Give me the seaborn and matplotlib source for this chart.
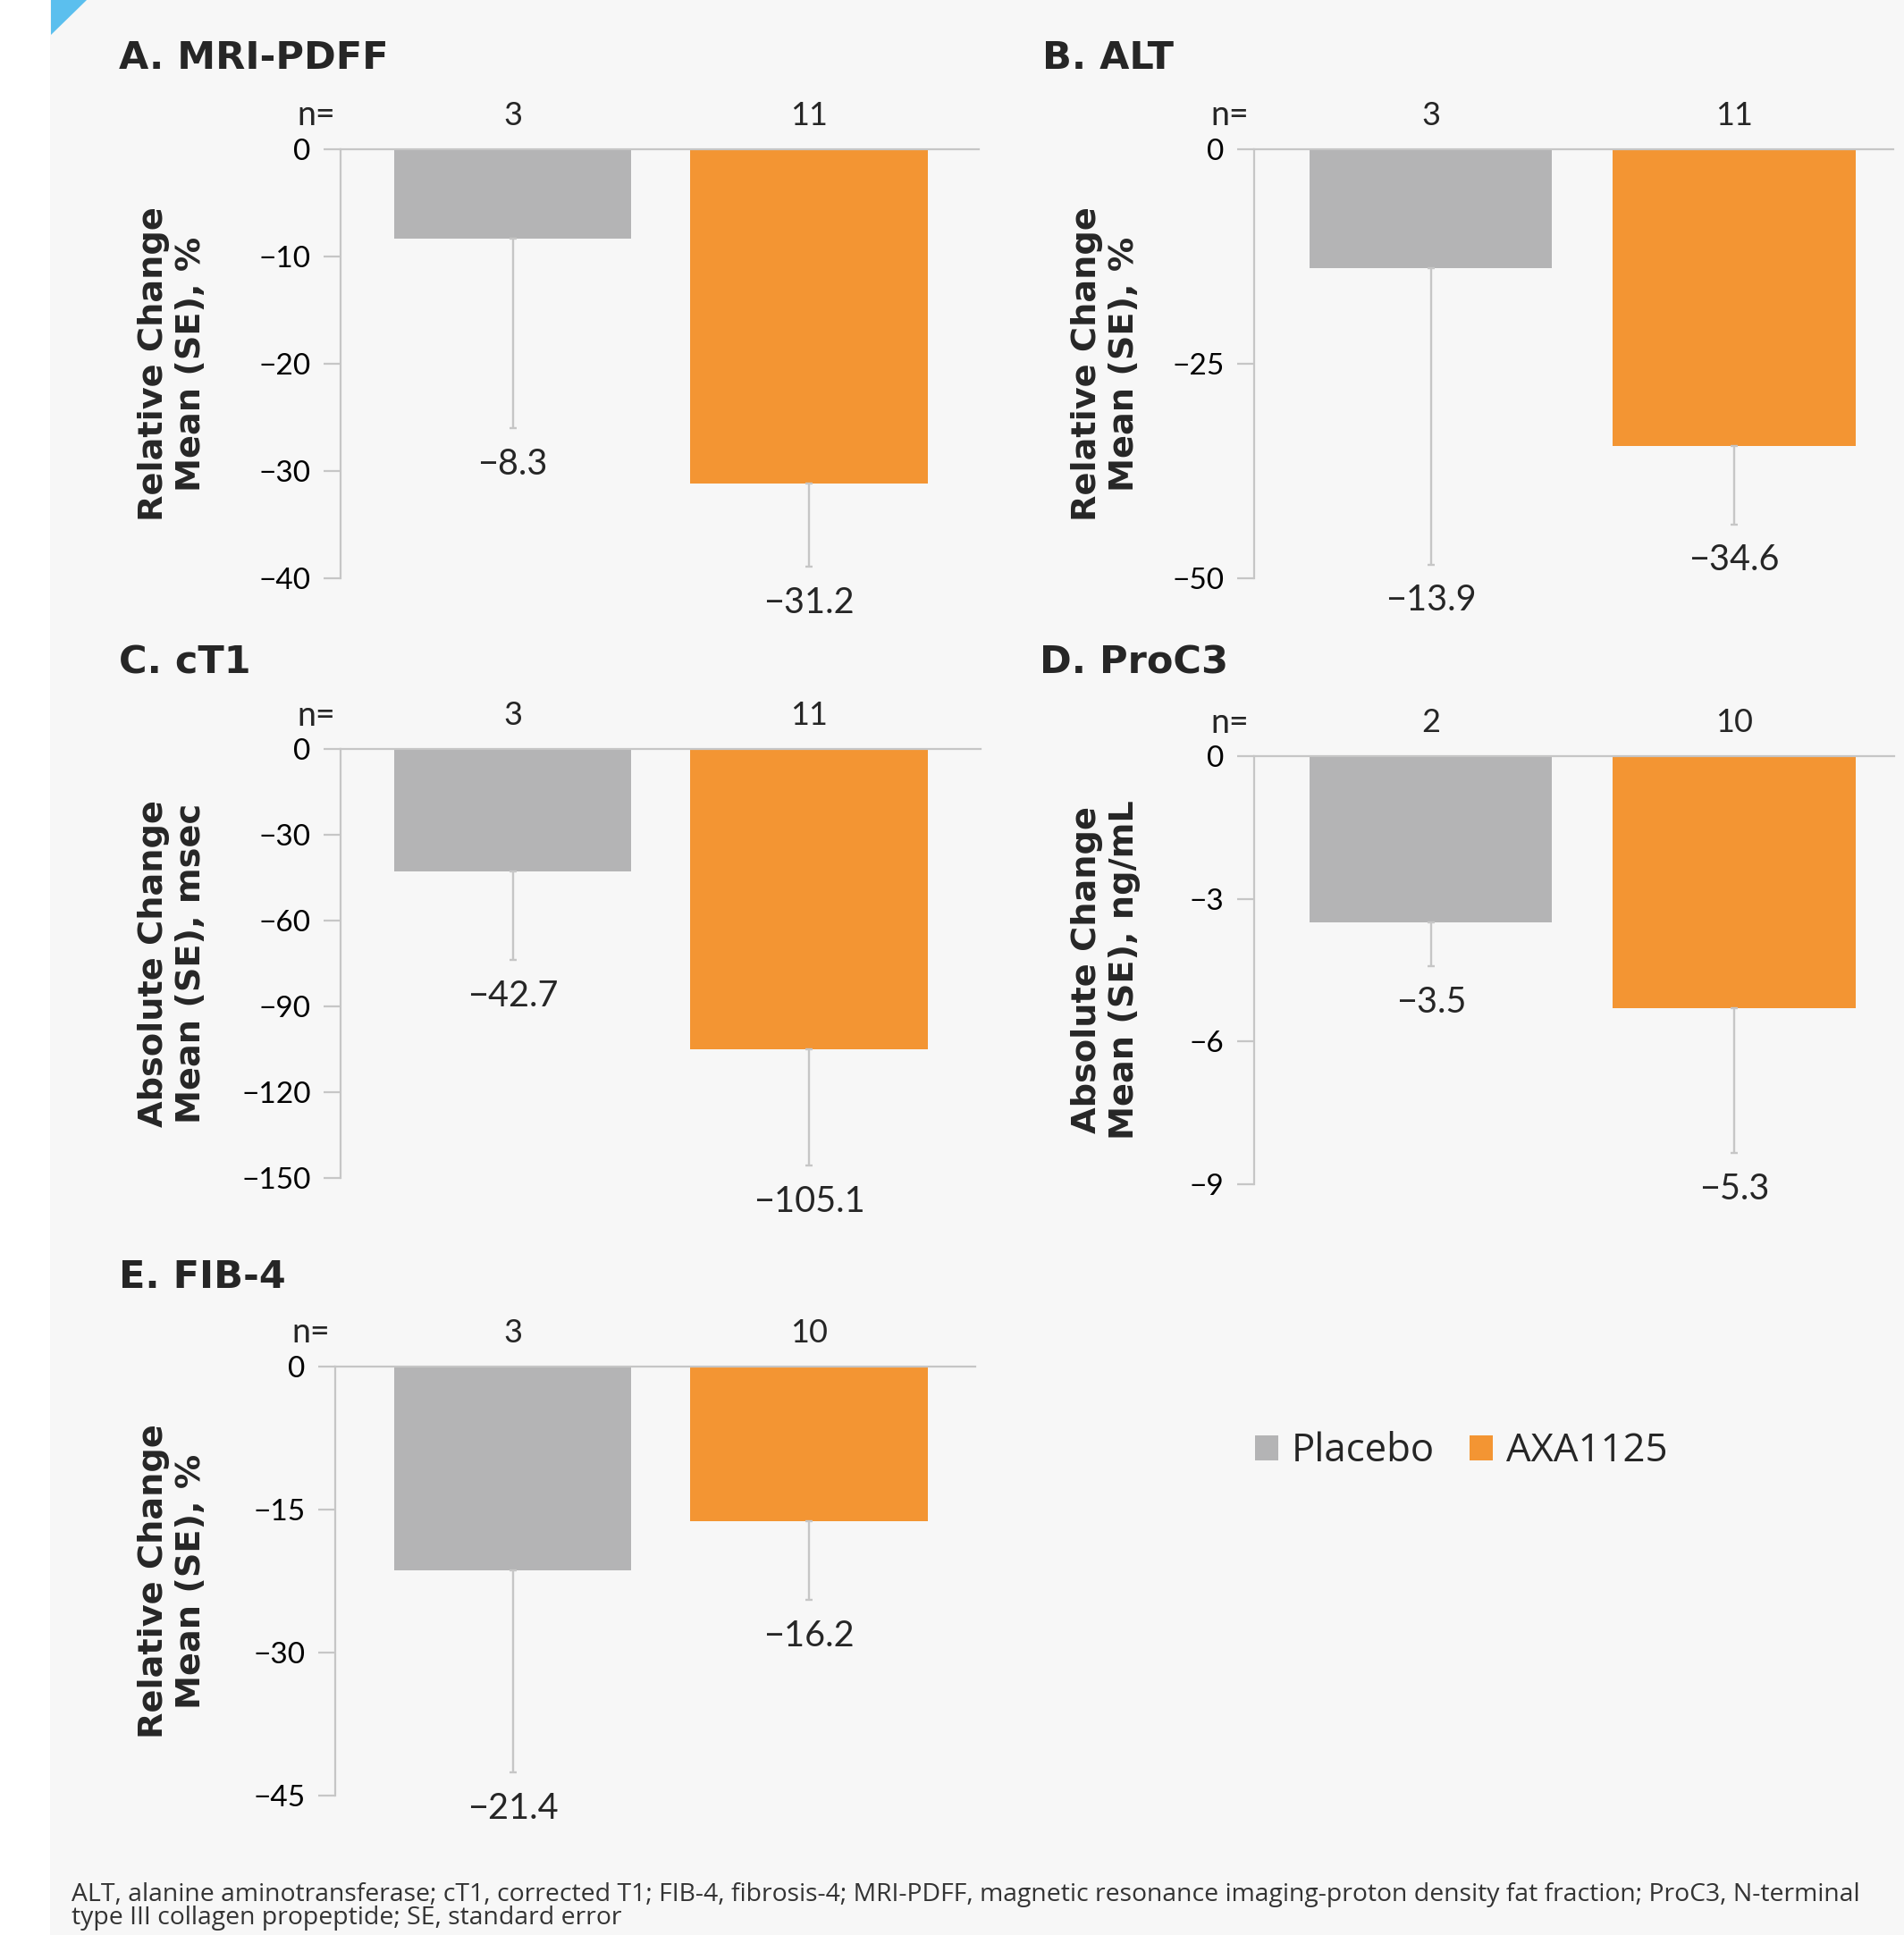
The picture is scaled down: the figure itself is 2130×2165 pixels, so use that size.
import matplotlib
matplotlib.use("Agg")
import matplotlib.pyplot as plt
import seaborn as sns
import pandas as pd
from matplotlib.patches import Patch, Polygon, Rectangle

# ---------------- data ----------------
groups = ["Placebo", "AXA1125"]
titles = ["A. MRI-PDFF", "B. ALT", "C. cT1", "D. ProC3", "E. FIB-4"]
ylabels = ["Relative Change\nMean (SE), %",
           "Relative Change\nMean (SE), %",
           "Absolute Change\nMean (SE), msec",
           "Absolute Change\nMean (SE), ng/mL",
           "Relative Change\nMean (SE), %"]
n_counts = [[3, 11], [3, 11], [3, 11], [2, 10], [3, 10]]
means = [[-8.3, -31.2], [-13.9, -34.6], [-42.7, -105.1], [-3.5, -5.3], [-21.4, -16.2]]
se = [[17.7, 7.7], [34.5, 9.1], [31.0, 40.5], [0.92, 3.05], [21.2, 8.3]]
yticks = [[0, -10, -20, -30, -40], [0, -25, -50], [0, -30, -60, -90, -120, -150],
          [0, -3, -6, -9], [0, -15, -30, -45]]
footnote_lines = ["ALT, alanine aminotransferase; cT1, corrected T1; FIB-4, fibrosis-4; MRI-PDFF, "
                  "magnetic resonance imaging-proton density fat fraction; ProC3, N-terminal",
                  "type III collagen propeptide; SE, standard error"]

# ---------------- style ----------------
GRAY = "#b4b4b5"
ORANGE = "#f39533"
BG = "#f7f7f7"
LINE = "#c6c6c6"
W, H = 2130, 2165

sns.set_theme(style="white")
plt.rcParams["font.family"] = ["Lato", "DejaVu Sans"]
plt.rcParams["axes.unicode_minus"] = True
BOLD = ["DejaVu Sans"]
TEXTF = ["Open Sans", "DejaVu Sans"]

fig = plt.figure(figsize=(W / 100, H / 100), dpi=100)
fig.patch.set_facecolor("white")
fig.patches.append(Rectangle((56 / W, 0), 1 - 56 / W, 1, transform=fig.transFigure,
                             facecolor=BG, edgecolor="none", zorder=-10))
fig.patches.append(Polygon([(57 / W, 1), (97 / W, 1), (57 / W, 1 - 39 / H)], closed=True,
                           transform=fig.transFigure, facecolor="#5bbfee",
                           edgecolor="none", zorder=-5))

# panel layout in pixels: left spine x, right end x, top y, bottom y, xlim, title pos, ylabel center x
layout = [
    dict(l=381, r=1095, t=167, b=647, xlim=(-0.581, 1.573), title=(133, 65), ylx=193),
    dict(l=1403, r=2118, t=167, b=647, xlim=(-0.583, 1.525), title=(1166, 65), ylx=1237),
    dict(l=381, r=1097, t=838, b=1318, xlim=(-0.581, 1.579), title=(133, 741), ylx=193),
    dict(l=1403, r=2119, t=846, b=1325, xlim=(-0.583, 1.528), title=(1163, 741), ylx=1237),
    dict(l=375, r=1091, t=1529, b=2009, xlim=(-0.599, 1.561), title=(133, 1429), ylx=193),
]

for i, lay in enumerate(layout):
    ax = fig.add_axes([lay["l"] / W, 1 - lay["b"] / H, (lay["r"] - lay["l"]) / W,
                       (lay["b"] - lay["t"]) / H])
    ax.set_facecolor("none")
    df = pd.DataFrame({"group": groups, "value": means[i]})
    sns.barplot(data=df, x="group", y="value", hue="group", palette=[GRAY, ORANGE],
                width=0.8, errorbar=None, legend=False, ax=ax, saturation=1,
                linewidth=0)
    ax.errorbar(x=[0, 1], y=means[i], yerr=[se[i], [0, 0]], fmt="none",
                ecolor=LINE, elinewidth=1.7, capsize=3.2, capthick=1.7, zorder=3,
                clip_on=False)
    ax.set_ylim(yticks[i][-1], 0)
    ax.set_xlim(*lay["xlim"])
    ax.set_yticks(yticks[i])
    ax.set_xticks([])
    ax.set_xlabel("")
    ax.set_ylabel("")
    for s in ["right", "bottom"]:
        ax.spines[s].set_visible(False)
    for s in ["left", "top"]:
        ax.spines[s].set_color(LINE)
        ax.spines[s].set_linewidth(1.6)
        ax.spines[s].set_zorder(4)
    ax.tick_params(axis="y", direction="out", length=14, width=1.6, color=LINE,
                   labelsize=24, pad=10, labelcolor="black", left=True)
    for lab in ax.get_yticklabels():
        lab.set_va("center_baseline")
    # n labels
    ax.annotate("n=", xy=(0, 1), xycoords="axes fraction", xytext=(-4, 27),
                textcoords="offset points", ha="right", va="center", fontsize=27,
                annotation_clip=False)
    for j in range(2):
        ax.annotate(str(n_counts[i][j]), xy=(j, 0), xytext=(0, 27),
                    textcoords="offset points", ha="center", va="center", fontsize=26,
                    annotation_clip=False)
        lo = means[i][j] - se[i][j]
        ax.annotate(f"{means[i][j]:.1f}".replace("-", "\u2212"), xy=(j, lo),
                    xytext=(0, -29), textcoords="offset points", ha="center",
                    va="center", fontsize=28.5, annotation_clip=False)
    fig.text(lay["title"][0] / W, 1 - lay["title"][1] / H, titles[i], fontsize=31,
             fontweight="bold", ha="left", va="center", family=BOLD)
    fig.text(lay["ylx"] / W, 1 - ((lay["t"] + lay["b"]) / 2) / H, ylabels[i],
             rotation=90, ha="center", va="center", multialignment="center",
             fontsize=27.5, fontweight="bold", linespacing=1.22, family=BOLD)

handles = [Patch(facecolor=GRAY, edgecolor="none", label="Placebo"),
           Patch(facecolor=ORANGE, edgecolor="none", label="AXA1125")]
fig.legend(handles=handles, loc="center left", bbox_to_anchor=(1404 / W, 1 - 1624 / H),
           ncol=2, frameon=False, handlelength=0.59, handleheight=0.59,
           handletextpad=0.34, columnspacing=0.9, borderpad=0, borderaxespad=0,
           prop={"family": TEXTF, "size": 31.5})

for k, line in enumerate(footnote_lines):
    fig.text(80 / W, 1 - (2120 + 26 * k) / H, line, fontsize=20.4, ha="left", va="center",
             color="#333333", family=TEXTF)

fig.savefig("out.png", dpi=100, facecolor=fig.get_facecolor())
